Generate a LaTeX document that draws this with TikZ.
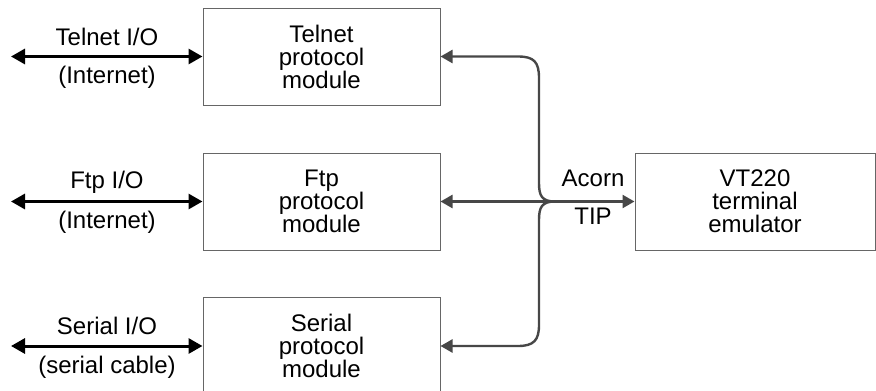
\documentclass[tikz,border=0pt]{standalone}
\usepackage{fontspec}
\setmainfont{Liberation Sans}
\usetikzlibrary{arrows.meta}
\begin{document}
\begin{tikzpicture}[x=1pt,y=-1pt,
  txt/.style={font=\fontsize{24}{23}\selectfont},
  box/.style={txt, draw=black!60, line width=1pt, minimum width=237pt, minimum height=97pt, inner sep=0pt, align=center},
  lbl/.style={txt, inner sep=0pt},
  io/.style={line width=3pt, draw=black, {Triangle[length=14pt,width=15pt]}-{Triangle[length=14pt,width=15pt]}},
  conn/.style={line width=2.4pt, draw=black!72, -{Triangle[length=12pt,width=13pt]}}]
\useasboundingbox (0,0) rectangle (876,391);

\node[box] (telnet) at (321.5,56.5) {Telnet\\protocol\\module};
\node[box] (ftp) at (321.5,201.5) {Ftp\\protocol\\module};
\node[box] (serial) at (321.5,346) {Serial\\protocol\\module};
\node[box, minimum width=240pt] (vt) at (755,201.5) {VT220\\terminal\\emulator};

\coordinate (tl) at (11,56.5);
\coordinate (fl) at (11,201.5);
\coordinate (sl) at (11,346);
\draw[io] (tl) -- (telnet.west);
\draw[io] (fl) -- (ftp.west);
\draw[io] (sl) -- (serial.west);

\node[lbl] (t1) at (107,37) {Telnet I/O};
\node[lbl] (t2) at (107,77) {(Internet)};
\node[lbl] (f1) at (107,182) {Ftp I/O};
\node[lbl] (f2) at (107,222) {(Internet)};
\node[lbl] (s1) at (107,326) {Serial I/O};
\node[lbl] (s2) at (107,367) {(serial cable)};

\node[lbl] (acorn) at (593,178) {Acorn};
\node[lbl] (tip) at (593,216) {TIP};

\coordinate (J) at (555,201.5);
\draw[conn] (J) .. controls (542,201.5) and (539,196) .. (539,183) -- (539,78)
  .. controls (539,62) and (534,56.5) .. (518,56.5) -- (telnet.east);
\draw[conn] (J) .. controls (542,201.5) and (539,207) .. (539,220) -- (539,325)
  .. controls (539,340) and (534,346) .. (518,346) -- (serial.east);
\draw[conn, {Triangle[length=12pt,width=13pt]}-{Triangle[length=12pt,width=13pt]}] (ftp.east) -- (vt.west);
\end{tikzpicture}
\end{document}
